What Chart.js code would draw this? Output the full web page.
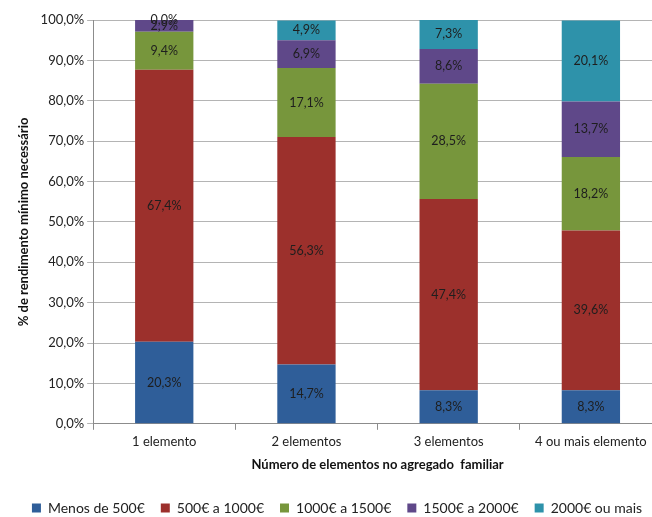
<!DOCTYPE html>
<html>
<head>
<meta charset="utf-8">
<script src="https://cdn.jsdelivr.net/npm/chart.js@4/dist/chart.umd.min.js"></script>
<style>
  html, body { margin: 0; padding: 0; background: #fff; overflow: hidden; }
  #wrap { width: 662px; height: 517px; }
</style>
</head>
<body>
<div id="wrap"><canvas id="rendChart"></canvas></div>
<script>
let categories = ["1 elemento", "2 elementos", "3 elementos", "4 ou mais elemento"];
let seriesNames = ["Menos de 500€", "500€ a 1000€", "1000€ a 1500€", "1500€ a 2000€", "2000€ ou mais"];
let menos500 = [20.3, 14.7, 8.3, 8.3];
let de500a1000 = [67.4, 56.3, 47.4, 39.6];
let de1000a1500 = [9.4, 17.1, 28.5, 18.2];
let de1500a2000 = [2.9, 6.9, 8.6, 13.7];
let mais2000 = [0.0, 4.9, 7.3, 20.1];
let colors = ["#2f5e99", "#9c302c", "#77963c", "#5f4889", "#2e92aa"];

function pct(v) {
    return v.toFixed(1).replace(".", ",") + "%";
}

let font = "Lato, 'Open Sans', sans-serif";

// writes each segment's value in the middle of the bar piece
let barLabels = {
    id: "barLabels",
    afterDatasetsDraw(chart) {
        let ctx = chart.ctx;
        ctx.save();
        ctx.font = "12.5px " + font;
        ctx.fillStyle = "#1e1e1e";
        ctx.textAlign = "center";
        ctx.textBaseline = "middle";
        chart.data.datasets.forEach((ds, i) => {
            chart.getDatasetMeta(i).data.forEach((bar, j) => {
                let mid = (bar.y + bar.base) / 2;
                ctx.fillText(pct(ds.data[j]), bar.x, mid);
            });
        });
        ctx.restore();
    }
};

let allSeries = [menos500, de500a1000, de1000a1500, de1500a2000, mais2000];

let rendCtx = document.getElementById("rendChart").getContext("2d");

let rendChart = new Chart(rendCtx, {
    type: "bar",
    data: {
        labels: categories,
        datasets: allSeries.map((d, i) => ({
            label: seriesNames[i],
            data: d,
            backgroundColor: colors[i],
            barPercentage: 0.41,
            categoryPercentage: 1
        }))
    },
    options: {
        responsive: true,
        maintainAspectRatio: false,
        animation: false,
        layout: { padding: { top: 20, right: 0, left: 12, bottom: -8 } },
        plugins: {
            tooltip: { enabled: false },
            legend: {
                position: "bottom",
                labels: {
                    boxWidth: 9,
                    boxHeight: 9,
                    padding: 16,
                    color: "#222",
                    font: { family: font, size: 14 }
                }
            }
        },
        scales: {
            x: {
                stacked: true,
                grid: { drawOnChartArea: false, color: "#8c8c8c", tickLength: 6 },
                border: { color: "#8c8c8c" },
                ticks: { color: "#222", font: { family: font, size: 13 }, padding: 4 },
                title: {
                    display: true,
                    text: "Número de elementos no agregado  familiar",
                    color: "#111",
                    font: { family: font, size: 13, weight: "bold" },
                    padding: { top: 4, bottom: 12 }
                }
            },
            y: {
                stacked: true,
                min: 0,
                max: 100,
                ticks: {
                    stepSize: 10,
                    color: "#222",
                    font: { family: font, size: 13 },
                    callback: v => pct(v)
                },
                grid: { color: "#b4b4b4", tickLength: 6 },
                border: { color: "#8c8c8c" },
                title: {
                    display: true,
                    text: "% de rendimento mínimo necessário",
                    color: "#111",
                    font: { family: font, size: 13, weight: "bold" },
                    padding: { bottom: 6 }
                }
            }
        }
    },
    plugins: [barLabels]
});
</script>
</body>
</html>
